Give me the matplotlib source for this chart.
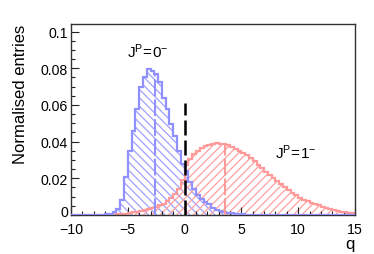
import numpy as np
import matplotlib
matplotlib.use("Agg")
import matplotlib.pyplot as plt
import matplotlib.transforms as mtransforms
from matplotlib.ticker import MultipleLocator

plt.rcParams['font.family'] = ['Liberation Sans', 'DejaVu Sans']
plt.rcParams['mathtext.fontset'] = 'custom'
plt.rcParams['mathtext.rm'] = 'Liberation Sans'
plt.rcParams['hatch.linewidth'] = 0.9

# ---- data ----
bin_lo, bin_hi, n_bins = -10, 15, 75

spin0_values = [0, 0, 0, 0, 0, 0, 0, 0,
                0.0002, 0.0004, 0.0008, 0.0018, 0.0035, 0.008, 0.0205, 0.035,
                0.046, 0.0578, 0.0696, 0.075, 0.0796, 0.0786, 0.0768, 0.0723,
                0.064, 0.0578, 0.0496, 0.0432, 0.035, 0.0278, 0.024, 0.018,
                0.0143, 0.011, 0.0089, 0.0072, 0.0058, 0.0036, 0.0028, 0.0022,
                0.0017, 0.0013, 0.001, 0.0007, 0.0005, 0.0003, 0.0001,
                0, 0, 0, 0, 0, 0, 0, 0, 0, 0, 0, 0, 0, 0, 0, 0, 0, 0, 0, 0,
                0, 0, 0, 0, 0, 0, 0, 0]

spin1_values = [0, 0, 0, 0, 0, 0, 0, 0, 0, 0, 0,
                0.0002, 0.0004, 0.0006, 0.0008, 0.001, 0.0014, 0.0018, 0.0022,
                0.0026, 0.0031, 0.0037, 0.0044, 0.0052, 0.0062, 0.0077, 0.0094,
                0.0115, 0.0142, 0.019, 0.027, 0.0305, 0.033, 0.035, 0.0365,
                0.0376, 0.0384, 0.0388, 0.039, 0.0389, 0.0385, 0.0379, 0.0369,
                0.0358, 0.0347, 0.0338, 0.0326, 0.031, 0.0292, 0.0274, 0.0255,
                0.0236, 0.0219, 0.0201, 0.0184, 0.0168, 0.0152, 0.0136, 0.0121,
                0.0107, 0.0094, 0.0084, 0.0075, 0.0067, 0.0059, 0.0052, 0.0045,
                0.0039, 0.0033, 0.0028, 0.0023, 0.0019, 0.0015, 0.0012, 0.001]

spin0_mean = -2.63
spin1_mean = 3.6
observed_q = 0.0
observed_height = 0.061

x_ticks = [-10, -5, 0, 5, 10, 15]
x_tick_labels = ['\u221210', '\u22125', '0', '5', '10', '15']
y_ticks = [0, 0.02, 0.04, 0.06, 0.08, 0.1]
y_tick_labels = ['0', '0.02', '0.04', '0.06', '0.08', '0.1']

label0 = r'$\mathregular{J^{P}\!=\!0^{-}}$'
label1 = r'$\mathregular{J^{P}\!=\!1^{-}}$'

# ---- plot ----
edges = np.linspace(bin_lo, bin_hi, n_bins + 1)
v0 = np.array(spin0_values)
v1 = np.array(spin1_values)

blue_line = '#9090ff'
blue_hatch = '#a0a0ff'
red_line = '#ff9a9a'
red_hatch = '#ffa0a0'

fig = plt.figure(figsize=(3.74, 2.55), dpi=100)
ax = fig.add_axes([71/374, 1 - 216/255, 284/374, 191/255])

ax.stairs(v0, edges, fill=True, hatch='\\\\\\\\', facecolor='none',
          edgecolor=blue_hatch, linewidth=0, zorder=1)
ax.stairs(v1, edges, fill=True, hatch='////', facecolor='none',
          edgecolor=red_hatch, linewidth=0, zorder=1)
ax.stairs(v1, edges, color=red_line, linewidth=1.6, zorder=2)
ax.stairs(v0, edges, color=blue_line, linewidth=1.6, zorder=3)

def height_at(values, q):
    i = np.searchsorted(edges, q) - 1
    return values[i]

ax.vlines(spin0_mean, 0, height_at(v0, spin0_mean), colors=blue_line,
          linewidth=1.5, linestyles=(0, (8, 1.5)), zorder=3)
ax.vlines(spin1_mean, 0, height_at(v1, spin1_mean), colors=red_line,
          linewidth=1.5, linestyles=(0, (8, 1.5)), zorder=3)
ax.vlines(observed_q, 0, observed_height, colors='black',
          linewidth=1.8, linestyles=(0, (6, 2)), zorder=4)

ax.text(-3.25, 0.0894, label0, fontsize=11, ha='center', va='center')
ax.text(9.8, 0.0343, label1, fontsize=11, ha='center', va='center')

ax.set_xlim(bin_lo, bin_hi)
ax.set_ylim(0, 0.1041)
ax.set_xticks(x_ticks)
ax.set_xticklabels(x_tick_labels)
ax.set_yticks(y_ticks)
ax.set_yticklabels(y_tick_labels)
ax.xaxis.set_minor_locator(MultipleLocator(1))
ax.yaxis.set_minor_locator(MultipleLocator(0.005))
ax.tick_params(which='both', direction='in', top=False, right=False,
               labelsize=10.2, width=0.8, color='#222222')
ax.tick_params(which='major', length=6)
ax.tick_params(which='minor', length=3.2)
ax.tick_params(axis='y', pad=2)
ax.tick_params(axis='x', pad=5)
for s in ax.spines.values():
    s.set_linewidth(1.0)
    s.set_color('#333333')

# nudge the "0" y label up slightly so it does not touch the x labels
zero_label = ax.get_yticklabels()[0]
zero_label.set_transform(zero_label.get_transform() +
                         mtransforms.ScaledTranslation(0, 3/72, fig.dpi_scale_trans))

ax.set_ylabel('Normalised entries', fontsize=12, loc='top', labelpad=9)
ax.set_xlabel('q', fontsize=12, loc='right', labelpad=0)

fig.savefig('out.png', dpi=100)
